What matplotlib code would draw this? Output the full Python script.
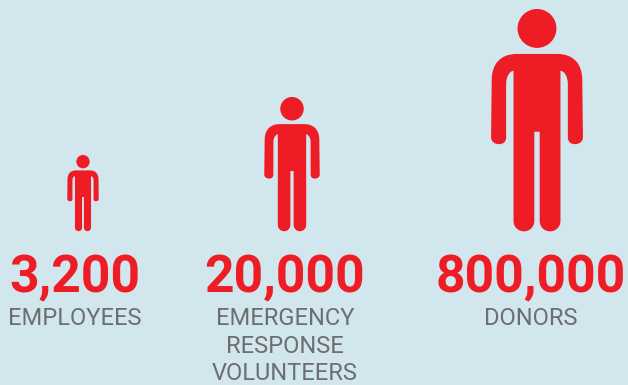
import numpy as np
import matplotlib
matplotlib.use('Agg')
import matplotlib.pyplot as plt
from matplotlib.path import Path
from matplotlib.patches import PathPatch, Circle
from matplotlib.transforms import Affine2D

BACKGROUND = '#d2e6ee'
RED = '#ee1c25'
GREY = '#6d6e71'

values = ['3,200', '20,000', '800,000']
labels = ['EMPLOYEES', 'EMERGENCY\nRESPONSE\nVOLUNTEERS', 'DONORS']

# pixel layout of the three columns
icon_x = [83, 292, 537]
icon_height = [76, 134, 222]
text_x = [75, 285, 531]
FEET_Y = 231


def person_body():
    # body outline, unit = 1 icon height, x centred, y from top of head
    right = [
        (Path.MOVETO, (0, 134)),
        (Path.LINETO, (60, 134)),
        (Path.CURVE4, (110, 134)), (Path.CURVE4, (135, 165)), (Path.CURVE4, (135, 212)),
        (Path.LINETO, (137, 382)),
        (Path.CURVE4, (137, 396)), (Path.CURVE4, (126, 403)), (Path.CURVE4, (113, 403)),
        (Path.CURVE4, (100, 403)), (Path.CURVE4, (92, 396)), (Path.CURVE4, (92, 382)),
        (Path.LINETO, (92, 225)),
        (Path.CURVE4, (92, 200)), (Path.CURVE4, (82, 186)), (Path.CURVE4, (70, 184)),
        (Path.LINETO, (70, 632)),
        (Path.CURVE4, (70, 650)), (Path.CURVE4, (56, 663)), (Path.CURVE4, (39, 663)),
        (Path.CURVE4, (22, 663)), (Path.CURVE4, (8, 650)), (Path.CURVE4, (8, 632)),
        (Path.LINETO, (8, 366)),
        (Path.LINETO, (0, 366)),
    ]
    codes = [c for c, _ in right]
    verts = [p for _, p in right]
    # left half is the right half mirrored and walked backwards
    mirrored = [(-x, y) for x, y in verts[-2::-1]]
    mirrored_codes = [Path.LINETO if c == Path.LINETO or c == Path.MOVETO else c for c in codes[:0:-1]]
    all_verts = verts + mirrored + [(0, 134)]
    all_codes = codes + mirrored_codes + [Path.CLOSEPOLY]
    return Path(np.array(all_verts) / 662.0, all_codes)


fig = plt.figure(figsize=(6.28, 3.85), dpi=100, facecolor=BACKGROUND)
ax = fig.add_axes([0, 0, 1, 1])
ax.set_xlim(0, 628)
ax.set_ylim(385, 0)
ax.axis('off')

body = person_body()
for cx, h in zip(icon_x, icon_height):
    top = FEET_Y - h
    tr = Affine2D().scale(h).translate(cx, top) + ax.transData
    ax.add_patch(PathPatch(body, transform=tr, facecolor=RED, edgecolor='none'))
    ax.add_patch(Circle((cx, top + h * 58 / 662.0), h * 58 / 662.0, facecolor=RED, edgecolor='none'))

for x, val, lab in zip(text_x, values, labels):
    ax.text(x, 292, val, ha='center', va='baseline', color=RED,
            fontsize=37.2, fontweight='bold', family='Roboto')
    for i, line in enumerate(lab.split('\n')):
        ax.text(x, 325 + i * 27.6, line, ha='center', va='baseline', color=GREY,
                fontsize=17, fontweight='normal', family='Roboto')

fig.savefig('out.png', dpi=100, facecolor=BACKGROUND)
